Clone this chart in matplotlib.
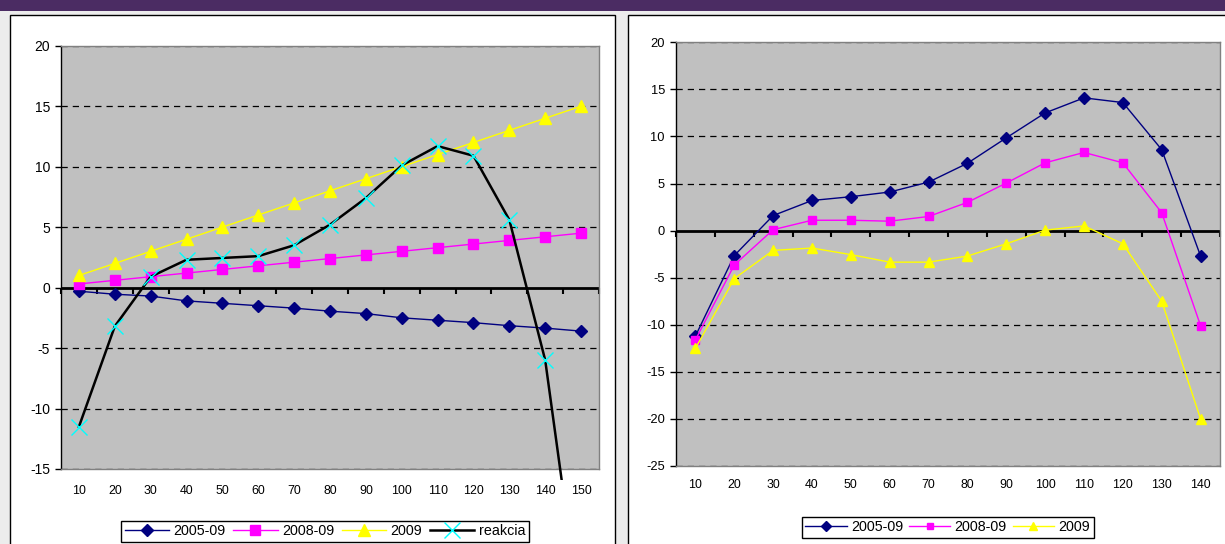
import matplotlib.pyplot as plt
from matplotlib.patches import Rectangle
from matplotlib.markers import TICKDOWN
import numpy as np

plt.rcParams['font.family'] = ['Liberation Sans', 'DejaVu Sans']
plt.rcParams['axes.unicode_minus'] = False

# ---- data: left chart ----
cats_left = [10, 20, 30, 40, 50, 60, 70, 80, 90, 100, 110, 120, 130, 140, 150]
left_2005_09 = [-0.3, -0.55, -0.7, -1.1, -1.3, -1.5, -1.7, -1.95, -2.15, -2.5, -2.7, -2.9, -3.15, -3.35, -3.6]
left_2008_09 = [0.3, 0.6, 0.9, 1.2, 1.5, 1.8, 2.1, 2.4, 2.7, 3.0, 3.3, 3.6, 3.9, 4.2, 4.5]
left_2009 = [1, 2, 3, 4, 5, 6, 7, 8, 9, 10, 11, 12, 13, 14, 15]
left_reakcia = [-11.5, -3.2, 0.9, 2.3, 2.45, 2.6, 3.5, 5.2, 7.4, 10.1, 11.7, 10.9, 5.6, -6.0, -27.6]

# ---- data: right chart ----
cats_right = [10, 20, 30, 40, 50, 60, 70, 80, 90, 100, 110, 120, 130, 140]
right_2005_09 = [-11.2, -2.65, 1.6, 3.2, 3.6, 4.1, 5.15, 7.15, 9.85, 12.5, 14.1, 13.6, 8.6, -2.7]
right_2008_09 = [-11.6, -3.65, 0.1, 1.1, 1.1, 1.0, 1.5, 3.0, 5.05, 7.2, 8.3, 7.2, 1.9, -10.1]
right_2009 = [-12.5, -5.1, -2.1, -1.85, -2.55, -3.35, -3.35, -2.7, -1.4, 0.05, 0.5, -1.4, -7.5, -20.0]

W, H = 1225, 544
fig = plt.figure(figsize=(W / 100, H / 100), dpi=100)
fig.patch.set_facecolor('#ECECEC')

# purple band on top and the two white panels
fig.add_artist(Rectangle((0, 1 - 11 / H), 1, 11 / H, transform=fig.transFigure,
                         facecolor='#4B2C63', edgecolor='none', zorder=0))
fig.add_artist(Rectangle((10 / W, -0.05), 605 / W, 1.05 - 14.5 / H, transform=fig.transFigure,
                         facecolor='white', edgecolor='black', lw=1, zorder=0))
fig.add_artist(Rectangle((628 / W, -0.05), 0.6, 1.05 - 14.5 / H, transform=fig.transFigure,
                         facecolor='white', edgecolor='black', lw=1, zorder=0))


def style_axes(ax, cats, ymin, ymax, xpad, yfs):
    n = len(cats)
    ax.set_facecolor('#C0C0C0')
    ax.set_xlim(-0.5, n - 0.5)
    ax.set_ylim(ymin, ymax)
    yt = list(range(ymin, ymax + 1, 5))
    ax.set_yticks(yt)
    ax.set_yticklabels([str(v) for v in yt])
    for v in yt:
        if v != 0:
            ax.axhline(v, color='black', lw=0.9, dashes=(5, 4), zorder=1)
    ax.axhline(0, color='black', lw=2, zorder=2)
    # category tick marks hanging from the zero line
    ax.plot(np.arange(n + 1) - 0.5, np.zeros(n + 1), ls='none', marker=TICKDOWN,
            ms=4, mew=1.5, color='black', clip_on=False, zorder=2)
    for s in ['top', 'right', 'bottom']:
        ax.spines[s].set_color('#808080')
        ax.spines[s].set_linewidth(1)
    ax.spines['left'].set_color('black')
    ax.spines['left'].set_linewidth(1)
    ax.tick_params(axis='y', length=4, width=1, direction='out', labelsize=yfs, pad=4)
    ax.tick_params(axis='x', length=0, pad=xpad, labelsize=8.9)
    ax.set_xticks(np.arange(n))
    ax.set_xticklabels([str(c) for c in cats])


# ---- left chart ----
ax1 = fig.add_axes([61 / W, 1 - 469 / H, (599 - 61) / W, (469 - 45.7) / H])
style_axes(ax1, cats_left, -15, 20, 11.5, 10)
x1 = np.arange(len(cats_left))
ax1.plot(x1, left_2005_09, color='#000080', lw=1, marker='D', ms=6.5, label='2005-09', zorder=3)
ax1.plot(x1, left_2008_09, color='#FF00FF', lw=1, marker='s', ms=6.5, label='2008-09', zorder=3)
ax1.plot(x1, left_2009, color='#FFFF00', lw=1, marker='^', ms=8, label='2009', zorder=3)
rk, = ax1.plot(x1, left_reakcia, color='black', lw=1.8, marker='x', ms=11, mew=1,
               mec='#00FFFF', label='reakcia', zorder=4)
clip = Rectangle((0, -0.025), 1, 1.025, transform=ax1.transAxes)
rk.set_clip_path(clip)

leg1 = ax1.legend(loc='upper left', bbox_to_anchor=(121 / W, 1 - 520.7 / H),
                  bbox_transform=fig.transFigure, ncol=4, fancybox=False,
                  edgecolor='black', framealpha=1, fontsize=10.3, handlelength=3.1,
                  handletextpad=0.3, columnspacing=0.55, borderpad=0.25, borderaxespad=0)
leg1.get_frame().set_linewidth(1)

# ---- right chart ----
ax2 = fig.add_axes([676 / W, 1 - 466 / H, (1220 - 676) / W, (466 - 42.3) / H])
style_axes(ax2, cats_right, -25, 20, 9, 9.3)
x2 = np.arange(len(cats_right))
ax2.plot(x2, right_2005_09, color='#000080', lw=1, marker='D', ms=6, label='2005-09', zorder=3)
ax2.plot(x2, right_2008_09, color='#FF00FF', lw=1, marker='s', ms=6, label='2008-09', zorder=3)
ax2.plot(x2, right_2009, color='#FFFF00', lw=1, marker='^', ms=7, label='2009', zorder=3)

leg2 = ax2.legend(loc='upper left', bbox_to_anchor=(801.7 / W, 1 - 516.7 / H),
                  bbox_transform=fig.transFigure, ncol=3, fancybox=False,
                  edgecolor='black', framealpha=1, fontsize=10.3, handlelength=2.9,
                  handletextpad=0.3, columnspacing=0.4, borderpad=0.25, borderaxespad=0,
                  markerscale=0.8)
leg2.get_frame().set_linewidth(1)

fig.savefig('out.png', dpi=100, facecolor=fig.get_facecolor())
